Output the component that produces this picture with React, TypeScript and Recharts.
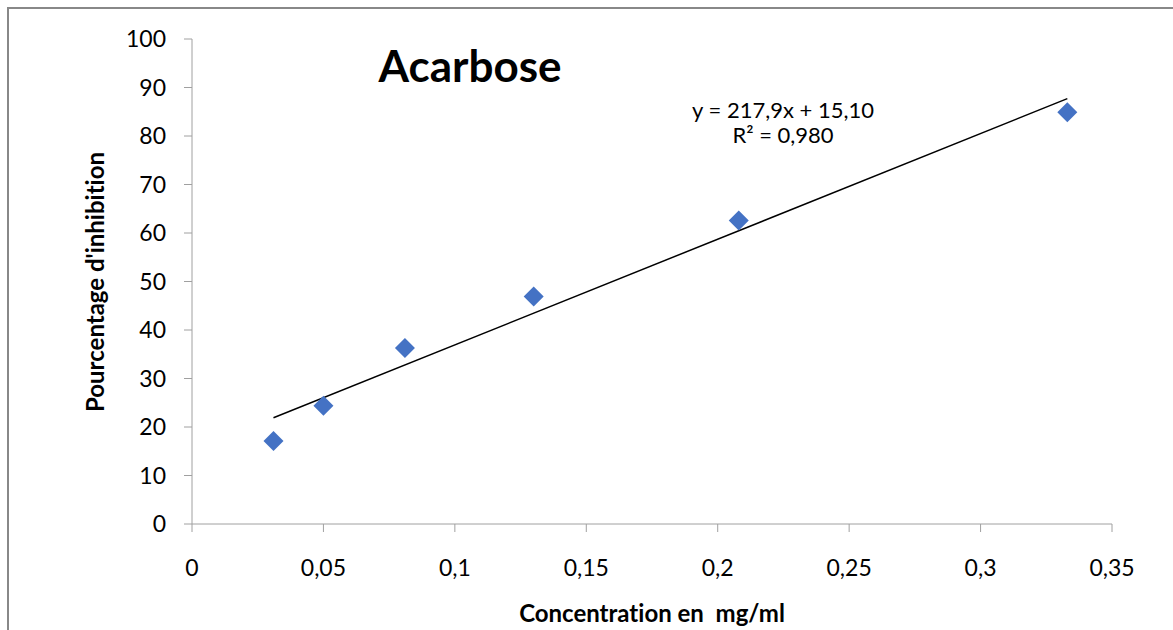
import React from "react";
import {
  ScatterChart,
  Scatter,
  XAxis,
  YAxis,
  ReferenceLine,
} from "recharts";

// concentration (mg/ml) vs % inhibition
const concentrations = [0.031, 0.05, 0.081, 0.13, 0.208, 0.333];
const inhibitions = [17.1, 24.4, 36.3, 46.9, 62.6, 84.9];

// trendline end points (y = 217,9x + 15,10)
const trendStart = { x: 0.031, y: 21.9 };
const trendEnd = { x: 0.333, y: 87.7 };

const xTicks = [0, 0.05, 0.1, 0.15, 0.2, 0.25, 0.3, 0.35];
const yTicks = [0, 10, 20, 30, 40, 50, 60, 70, 80, 90, 100];

const points = concentrations.map((c, i) => ({ x: c, y: inhibitions[i] }));

const FONT = "Lato, 'Open Sans', sans-serif";
const AXIS = "#a0a0a0";

const Diamond = (props: any) => {
  const { cx, cy } = props;
  const r = 10;
  return (
    <polygon
      points={`${cx},${cy - r} ${cx + r},${cy} ${cx},${cy + r} ${cx - r},${cy}`}
      fill="#4472C4"
    />
  );
};

const comma = (v: number) => String(v).replace(".", ",");

export default function App() {
  return (
    <div
      style={{
        position: "absolute",
        left: 0,
        top: 0,
        width: 1173,
        height: 630,
        overflow: "hidden",
        background: "#fff",
        fontFamily: FONT,
        fontVariantLigatures: "none",
      }}
    >
      <div
        style={{
          position: "absolute",
          left: 7,
          top: 7,
          width: 1300,
          height: 800,
          border: "2px solid #888",
          boxSizing: "border-box",
        }}
      />
      <ScatterChart
        width={1173}
        height={630}
        margin={{ top: 39, right: 61, left: 0, bottom: 46 }}
        style={{ position: "absolute", left: 0, top: 0 }}
      >
        <XAxis
          type="number"
          dataKey="x"
          domain={[0, 0.35]}
          ticks={xTicks}
          tickFormatter={comma}
          height={60}
          tickSize={8}
          tickMargin={28}
          stroke={AXIS}
          tick={{ fill: "#000", fontSize: 23, fontFamily: FONT }}
          allowDataOverflow
        />
        <YAxis
          type="number"
          dataKey="y"
          domain={[0, 100]}
          ticks={yTicks}
          width={192}
          tickSize={8}
          tickMargin={18}
          stroke={AXIS}
          tick={{ fill: "#000", fontSize: 23, fontFamily: FONT }}
          allowDataOverflow
        />
        <ReferenceLine
          segment={[trendStart, trendEnd]}
          stroke="#000"
          strokeWidth={1.5}
          ifOverflow="visible"
        />
        <Scatter
          data={points}
          shape={<Diamond />}
          isAnimationActive={false}
        />
      </ScatterChart>

      <div
        style={{
          position: "absolute",
          left: 470,
          top: 65,
          transform: "translate(-50%, -50%)",
          fontSize: 44,
          fontWeight: 700,
          whiteSpace: "nowrap",
        }}
      >
        Acarbose
      </div>

      <div
        style={{
          position: "absolute",
          left: 783,
          top: 97,
          transform: "translateX(-50%)",
          fontSize: 22,
          lineHeight: "25px",
          textAlign: "center",
          whiteSpace: "nowrap",
        }}
      >
        y = 217,9x + 15,10
        <br />
        R² = 0,980
      </div>

      <div
        style={{
          position: "absolute",
          left: 94,
          top: 282,
          transform: "translate(-50%, -50%) rotate(-90deg)",
          fontSize: 24,
          fontWeight: 700,
          whiteSpace: "nowrap",
        }}
      >
        Pourcentage d'inhibition
      </div>

      <div
        style={{
          position: "absolute",
          left: 652,
          top: 612,
          transform: "translate(-50%, -50%)",
          fontSize: 24,
          fontWeight: 700,
          whiteSpace: "pre",
        }}
      >
        Concentration en  mg/ml
      </div>
    </div>
  );
}
